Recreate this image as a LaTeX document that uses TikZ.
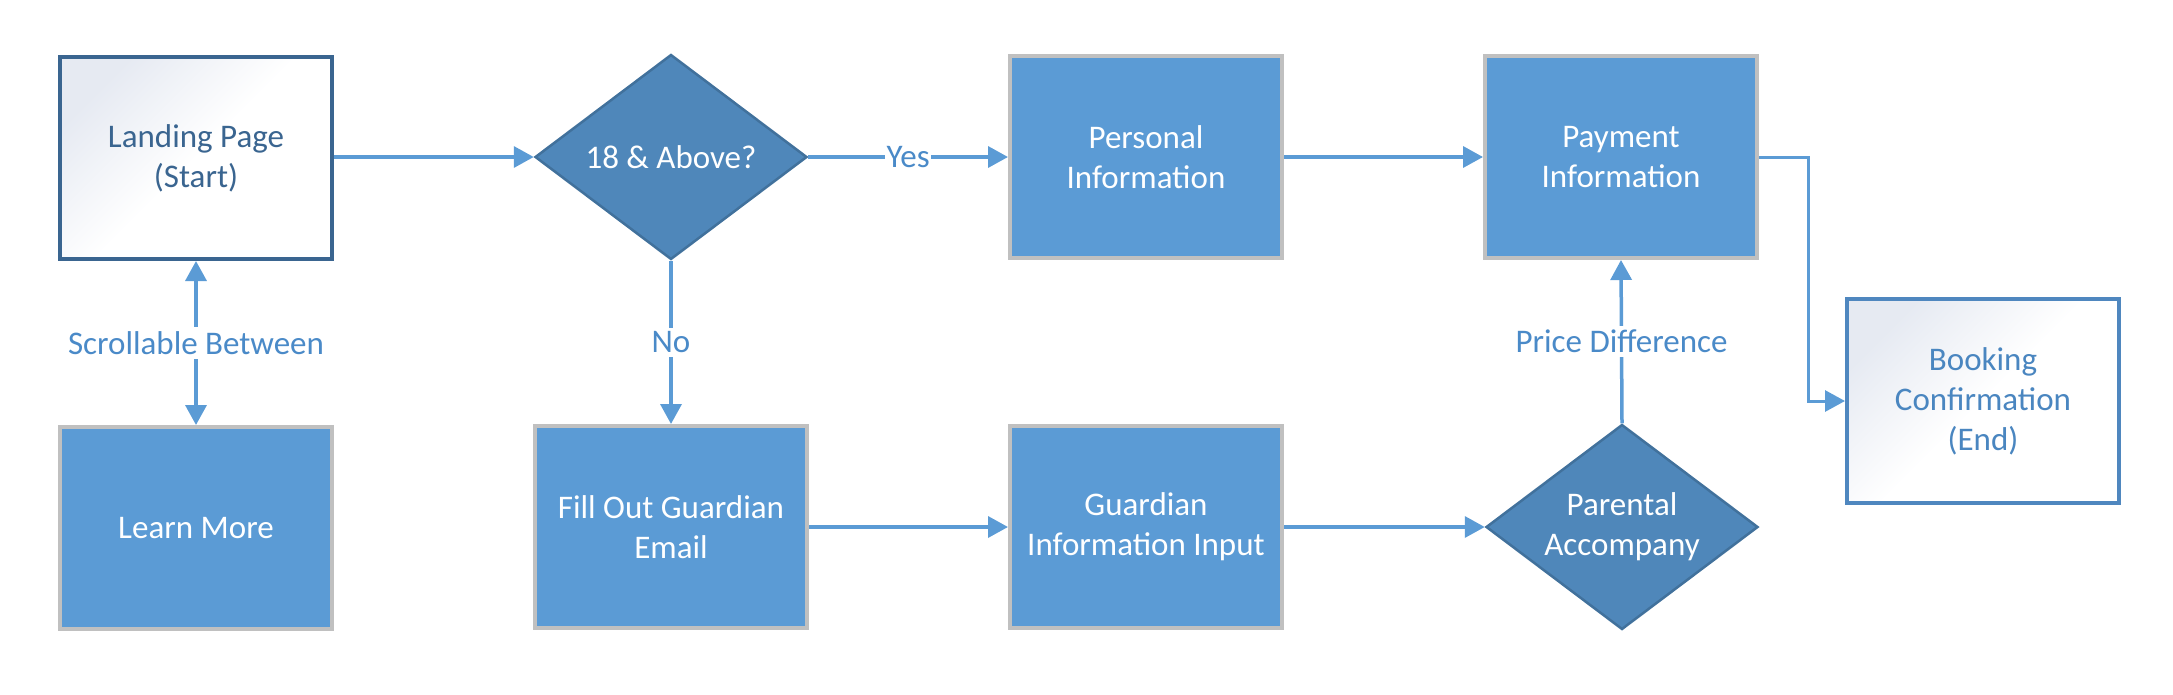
\documentclass[tikz,border=0pt]{standalone}
\usepackage{fontspec}
\setmainfont{Carlito}
\usetikzlibrary{shapes.geometric,arrows.meta}
\definecolor{boxblue}{HTML}{5B9BD5}
\definecolor{boxgray}{HTML}{C0C0C0}
\definecolor{diafill}{HTML}{4F87BA}
\definecolor{diaedge}{HTML}{41719C}
\definecolor{startedge}{HTML}{3A6590}
\definecolor{endedge}{HTML}{4F87BF}
\definecolor{darktext}{HTML}{3A6590}
\definecolor{endtext}{HTML}{4A86C0}
\definecolor{linecol}{HTML}{5B9BD5}
\definecolor{labelcol}{HTML}{4A8AC8}
\definecolor{shadetl}{HTML}{E6EAF2}
\begin{document}
\begin{tikzpicture}[x=1pt,y=-1pt,
  every node/.style={font=\fontsize{33}{40}\selectfont, align=center},
  procbox/.style={rectangle, draw=boxgray, line width=4, fill=boxblue, text=white,
    minimum width=272, minimum height=202, inner sep=0},
  endbox/.style={rectangle, line width=4, top color=shadetl, bottom color=white,
    middle color=white, shading angle=45, minimum width=272, minimum height=202, inner sep=0},
  decbox/.style={diamond, draw=diaedge, line width=2.5, fill=diafill, text=white,
    minimum width=272, minimum height=205, inner sep=-20},
  conn/.style={draw=linecol, line width=3.5, -{Triangle[length=20,width=21]}},
  lbl/.style={fill=white, text=labelcol, inner xsep=1.5, inner ysep=4}
]
\useasboundingbox (0,0) rectangle (2173,694);

\node[endbox, draw=startedge, text=darktext] (land) at (196,158) {Landing Page\\(Start)};
\node[procbox] (learn) at (196,528) {Learn More};
\node[decbox] (q18) at (671,157) {18 \& Above?};
\node[procbox] (fill) at (671,527) {Fill Out Guardian\\Email};
\node[procbox] (pers) at (1146,157) {Personal\\Information};
\node[procbox] (gin) at (1146,527) {Guardian\\Information Input};
\node[procbox] (pay) at (1621,157) {Payment\\Information};
\node[decbox] (par) at (1622,527) {Parental\\Accompany};
\node[endbox, draw=endedge, text=endtext, minimum height=204] (book) at (1983,401) {Booking\\Confirmation\\(End)};

\coordinate (bend) at (1808,157);

\draw[conn] (land.east |- q18.west) -- (q18.west);
\draw[conn] (q18.east) -- node[lbl] {Yes} (pers.west);
\draw[conn] (q18.south) -- node[lbl] {No} (fill.north);
\draw[conn, {Triangle[length=20,width=21]}-{Triangle[length=20,width=21]}] (land.south) -- node[lbl] {Scrollable Between} (learn.north);
\draw[conn] (pers.east) -- (pay.west);
\draw[conn] (fill.east) -- (gin.west);
\draw[conn] (gin.east) -- (par.west);
\draw[conn] (par.north) -- node[lbl] {Price Difference} (pay.south);
\draw[conn, line width=3] (pay.east) -- (bend) |- (book.west);
\end{tikzpicture}
\end{document}
